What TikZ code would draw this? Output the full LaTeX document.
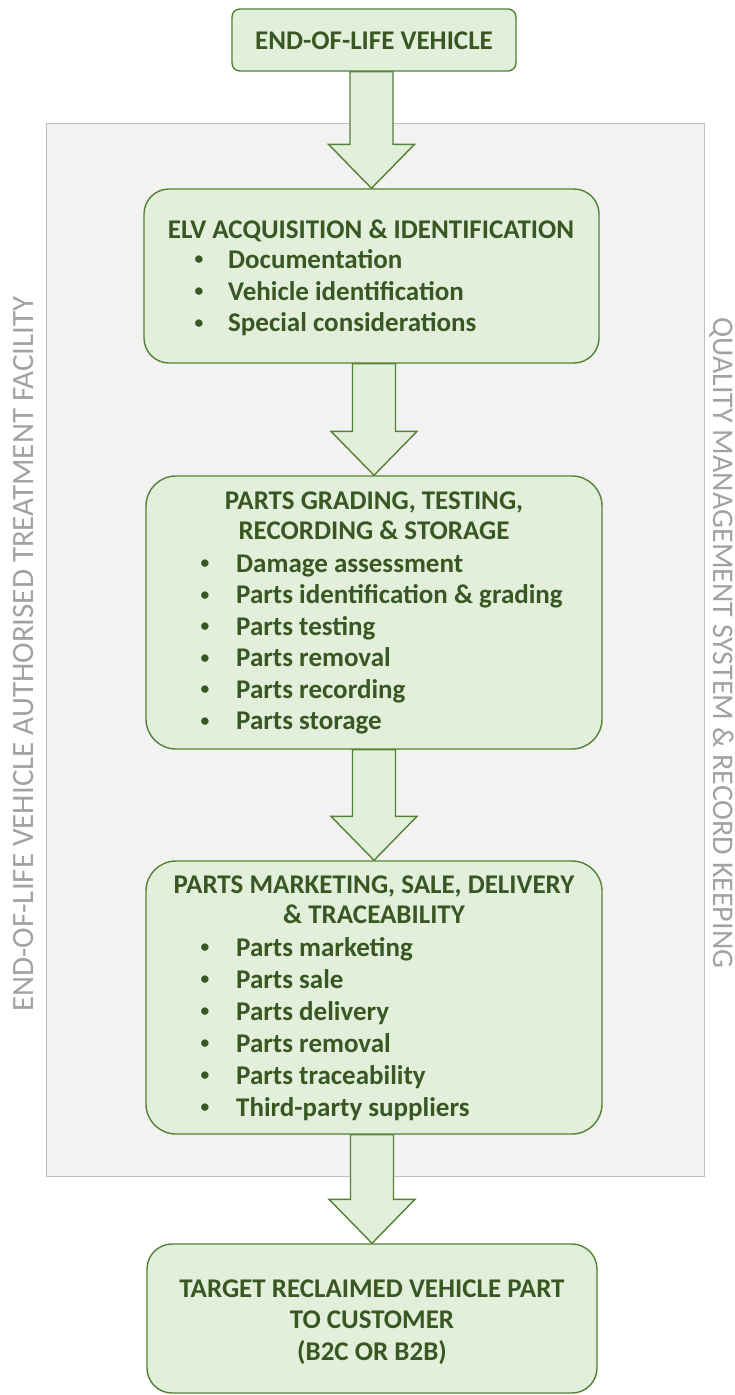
\documentclass[tikz,border=0pt]{standalone}
\usepackage{fontspec}
\setmainfont{Carlito}
\usetikzlibrary{calc}
\definecolor{boxfill}{HTML}{E2EFDA}
\definecolor{boxline}{HTML}{548235}
\definecolor{txtgreen}{HTML}{385723}
\definecolor{panelfill}{HTML}{F2F2F2}
\definecolor{panelline}{HTML}{BFBFBF}
\definecolor{sidegray}{HTML}{A2A2A2}
\pgfdeclarelayer{bglayer}
\pgfdeclarelayer{arrlayer}
\pgfsetlayers{bglayer,arrlayer,main}
\newcommand\blockarrow[2]{%
  \begin{pgfonlayer}{arrlayer}
  \draw[barrow] let \p1=(#1.south), \p2=(#2.north) in
    (\x2-21.5pt,\y1) -- (\x2-21.5pt,\y2+44pt) -- (\x2-43pt,\y2+44pt) -- (\x2,\y2)
    -- (\x2+43pt,\y2+44pt) -- (\x2+21.5pt,\y2+44pt) -- (\x2+21.5pt,\y1) -- cycle;
  \end{pgfonlayer}}
\newcommand\bul{\raisebox{3.3pt}{\fontsize{17.5}{18}\selectfont •}}
\begin{document}
\begin{tikzpicture}[x=1pt,y=-1pt,
  stage/.style={draw=boxline, fill=boxfill, line width=1.4pt, inner sep=0pt},
  barrow/.style={draw=boxline, fill=boxfill, line width=1.4pt, line join=miter},
  lbl/.style={font=\fontsize{27}{32}\selectfont\bfseries, text=txtgreen, inner sep=0pt},
  sidelbl/.style={text=sidegray, inner sep=0pt}]
\useasboundingbox (0,0) rectangle (734,1395);
\begin{pgfonlayer}{bglayer}
\node[draw=panelline, fill=panelfill, line width=1pt, minimum width=658pt, minimum height=1053pt, inner sep=0pt] (panel) at (375,649.5) {};
\end{pgfonlayer}
% side labels
\node[sidelbl, font=\fontsize{31}{36}\selectfont, rotate=90, anchor=base] (lside) at (34,654) {END-OF-LIFE VEHICLE AUTHORISED TREATMENT FACILITY};
\node[sidelbl, font=\fontsize{30}{36}\selectfont, rotate=-90, anchor=base] (rside) at (713,643) {QUALITY MANAGEMENT SYSTEM \& RECORD KEEPING};
% boxes
\node[stage, rounded corners=8pt, minimum width=284pt, minimum height=62pt] (b1) at (374,40) {};
\node[stage, rounded corners=25pt, minimum width=455pt, minimum height=174pt] (b2) at (371.5,276) {};
\node[stage, rounded corners=30pt, minimum width=456pt, minimum height=273pt] (b3) at (374,612.5) {};
\node[stage, rounded corners=30pt, minimum width=456pt, minimum height=273pt] (b4) at (374,997.5) {};
\node[stage, rounded corners=25pt, minimum width=450pt, minimum height=149pt] (b5) at (372,1318.5) {};
% arrows
\blockarrow{b1}{b2}
\blockarrow{b2}{b3}
\blockarrow{b3}{b4}
\blockarrow{b4}{b5}
% texts box 1
\node[lbl, anchor=base] (t1) at (374,49) {END-OF-LIFE VEHICLE};
% box 2
\node[lbl, anchor=base] (t2) at (371,238) {ELV ACQUISITION \& IDENTIFICATION};
\foreach \y/\t [count=\i] in {268/Documentation, 300/Vehicle identification, 331.5/Special considerations}{
  \node[lbl, anchor=base] (b2d\i) at (199,\y) {\bul};
  \node[lbl, anchor=base west] (b2i\i) at (228,\y) {\t};
}
% box 3
\node[lbl, anchor=base] (t3a) at (374,509) {PARTS GRADING, TESTING,};
\node[lbl, anchor=base] (t3b) at (374,539) {RECORDING \& STORAGE};
\foreach \y/\t [count=\i] in {572/Damage assessment, 603.5/Parts identification \& grading, 635/Parts testing, 666.5/Parts removal, 698/Parts recording, 729.5/Parts storage}{
  \node[lbl, anchor=base] (b3d\i) at (205,\y) {\bul};
  \node[lbl, anchor=base west] (b3i\i) at (236,\y) {\t};
}
% box 4
\node[lbl, anchor=base] (t4a) at (374,893) {PARTS MARKETING, SALE, DELIVERY};
\node[lbl, anchor=base] (t4b) at (374,923) {\& TRACEABILITY};
\foreach \y/\t [count=\i] in {956/Parts marketing, 988/Parts sale, 1020/Parts delivery, 1052/Parts removal, 1084/Parts traceability, 1116/Third-party suppliers}{
  \node[lbl, anchor=base] (b4d\i) at (205,\y) {\bul};
  \node[lbl, anchor=base west] (b4i\i) at (236,\y) {\t};
}
% box 5
\node[lbl, anchor=base] (t5a) at (372,1297) {TARGET RECLAIMED VEHICLE PART};
\node[lbl, anchor=base] (t5b) at (372,1328) {TO CUSTOMER};
\node[lbl, anchor=base] (t5c) at (372,1360) {(B2C OR B2B)};
\end{tikzpicture}
\end{document}
